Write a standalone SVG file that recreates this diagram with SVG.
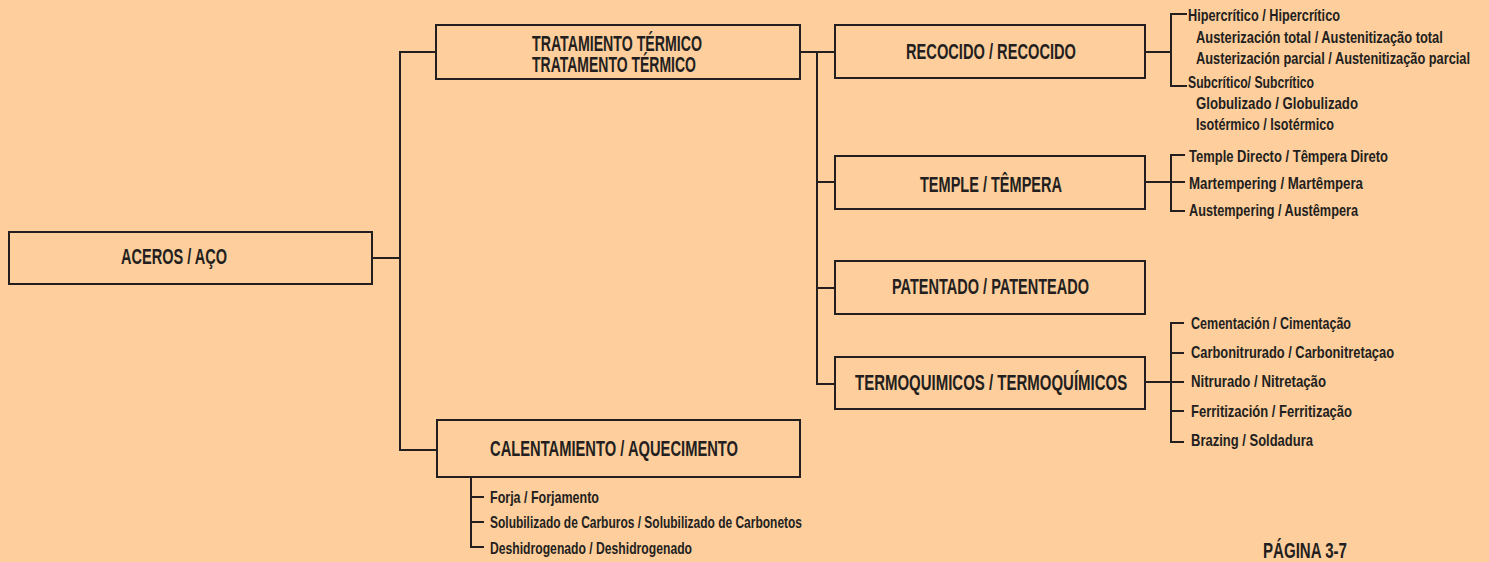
<svg xmlns="http://www.w3.org/2000/svg" width="1489" height="562" viewBox="0 0 1489 562">
<style>
.bg{fill:#FECE9C}
.box{fill:none;stroke:#231F20;stroke-width:2}
.ln{fill:none;stroke:#231F20;stroke-width:2}
.bt{font-family:"Liberation Sans",Arial,sans-serif;font-weight:bold;font-size:22px;fill:#231F20}
.lt{font-family:"Liberation Sans",Arial,sans-serif;font-weight:bold;font-size:17px;fill:#231F20}
</style>
<rect class="bg" x="0" y="0" width="1489" height="562"/>
<g id="connectors">
<path class="ln" d="M372 258H400M400 51V451M400 52H436M400 450H437"/>
<path class="ln" d="M800 52H835M817 51V385M817 182H835M817 288H835M817 384H835"/>
<path class="ln" d="M1145 52H1172M1187 14H1171V86H1187"/>
<path class="ln" d="M1145 182H1185M1185 155H1171V211H1185"/>
<path class="ln" d="M1145 382H1184M1184 323H1171V442H1184M1171 353H1184M1171 411H1184"/>
<path class="ln" d="M471 478V547H484M471 497H484M471 522H484"/>
</g>
<g id="aceros">
<rect class="box" x="9" y="232" width="363" height="52"/>
<text class="bt" x="121" y="264" textLength="106" lengthAdjust="spacingAndGlyphs">ACEROS / AÇO</text>
</g>
<g id="tratamiento">
<rect class="box" x="436" y="25" width="364" height="54"/>
<text class="bt" style="font-size:21.5px"><tspan x="532" y="51" textLength="170" lengthAdjust="spacingAndGlyphs">TRATAMIENTO TÉRMICO</tspan><tspan x="532" y="72" textLength="164" lengthAdjust="spacingAndGlyphs">TRATAMENTO TÉRMICO</tspan></text>
</g>
<g id="calentamiento">
<rect class="box" x="437" y="420" width="363" height="57"/>
<text class="bt" x="490" y="456" textLength="248" lengthAdjust="spacingAndGlyphs">CALENTAMIENTO / AQUECIMENTO</text>
<text class="lt" x="490" y="502.5" textLength="109" lengthAdjust="spacingAndGlyphs">Forja / Forjamento</text>
<text class="lt" x="490" y="528" textLength="312" lengthAdjust="spacingAndGlyphs">Solubilizado de Carburos / Solubilizado de Carbonetos</text>
<text class="lt" x="490" y="553.5" textLength="202" lengthAdjust="spacingAndGlyphs">Deshidrogenado / Deshidrogenado</text>
</g>
<g id="recocido">
<rect class="box" x="835" y="25" width="310" height="53"/>
<text class="bt" x="906" y="59" textLength="170" lengthAdjust="spacingAndGlyphs">RECOCIDO / RECOCIDO</text>
<text class="lt" x="1188" y="21" textLength="152" lengthAdjust="spacingAndGlyphs">Hipercrítico / Hipercrítico</text>
<text class="lt" transform="translate(1196 43) scale(0.68 1)" x="0" y="0" textLength="363" lengthAdjust="spacingAndGlyphs">Austerización total / Austenitização total</text>
<text class="lt" transform="translate(1196 64) scale(0.68 1)" x="0" y="0" textLength="403" lengthAdjust="spacingAndGlyphs">Austerización parcial / Austenitização parcial</text>
<text class="lt" x="1188" y="88" textLength="126" lengthAdjust="spacingAndGlyphs">Subcrítico/ Subcrítico</text>
<text class="lt" x="1196" y="109" textLength="162" lengthAdjust="spacingAndGlyphs">Globulizado / Globulizado</text>
<text class="lt" x="1196" y="130" textLength="138" lengthAdjust="spacingAndGlyphs">Isotérmico / Isotérmico</text>
</g>
<g id="temple">
<rect class="box" x="835" y="156" width="310" height="53"/>
<text class="bt" x="920" y="192" textLength="142" lengthAdjust="spacingAndGlyphs">TEMPLE / TÊMPERA</text>
<text class="lt" x="1189" y="162" textLength="199" lengthAdjust="spacingAndGlyphs">Temple Directo / Têmpera Direto</text>
<text class="lt" x="1189" y="189" textLength="174" lengthAdjust="spacingAndGlyphs">Martempering / Martêmpera</text>
<text class="lt" x="1189" y="216" textLength="169" lengthAdjust="spacingAndGlyphs">Austempering / Austêmpera</text>
</g>
<g id="patentado">
<rect class="box" x="835" y="261" width="310" height="53"/>
<text class="bt" x="892" y="294" textLength="197" lengthAdjust="spacingAndGlyphs">PATENTADO / PATENTEADO</text>
</g>
<g id="termoquimicos">
<rect class="box" x="835" y="357" width="310" height="52"/>
<text class="bt" transform="translate(855 390) scale(0.72 1)" x="0" y="0" textLength="378" lengthAdjust="spacingAndGlyphs">TERMOQUIMICOS / TERMOQUÍMICOS</text>
<text class="lt" x="1191" y="329" textLength="160" lengthAdjust="spacingAndGlyphs">Cementación / Cimentação</text>
<text class="lt" x="1191" y="358" textLength="203" lengthAdjust="spacingAndGlyphs">Carbonitrurado / Carbonitretaçao</text>
<text class="lt" x="1191" y="387" textLength="135" lengthAdjust="spacingAndGlyphs">Nitrurado / Nitretação</text>
<text class="lt" x="1191" y="417" textLength="161" lengthAdjust="spacingAndGlyphs">Ferritización / Ferritização</text>
<text class="lt" x="1191" y="446" textLength="122" lengthAdjust="spacingAndGlyphs">Brazing / Soldadura</text>
</g>
<g id="pagina">
<text class="bt" x="1263" y="558" textLength="84" lengthAdjust="spacingAndGlyphs">PÁGINA 3-7</text>
</g>
</svg>
